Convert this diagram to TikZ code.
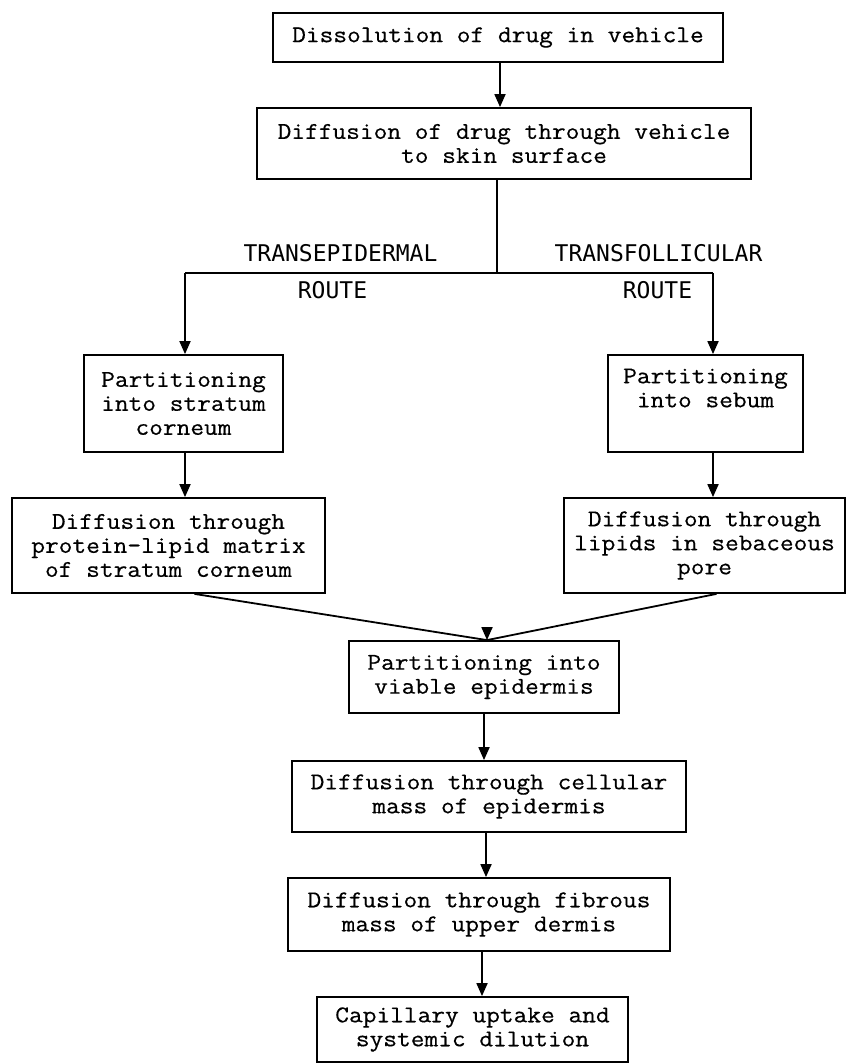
\documentclass[tikz,border=0pt]{standalone}
\usepackage{fontspec}
\newfontfamily\labfont{DejaVu Sans Mono}
\newfontfamily\boxfont[FakeStretch=1.11,FakeBold=0.5]{Latin Modern Mono}
\usetikzlibrary{arrows.meta}
\begin{document}
\begin{tikzpicture}[x=1pt,y=-1pt,
  box/.style={draw,line width=1.8pt,inner sep=0pt,align=center,
    font=\boxfont\fontsize{24}{24}\selectfont},
  lab/.style={font=\labfont\fontsize{23}{24}\selectfont,inner sep=0pt},
  ln/.style={line width=1.8pt,line join=round},
  arr/.style={line width=1.8pt,-{Triangle[length=13pt,width=11pt]}}]
\useasboundingbox (0,0) rectangle (846,1064);
\node[box,minimum width=450pt,minimum height=49pt] (d1) at (498,37.5)
  {Dissolution of drug in vehicle};
\node[box,minimum width=494pt,minimum height=71pt] (d2) at (504,143.5)
  {Diffusion of drug through vehicle\\to skin surface};
\node[box,minimum width=199pt,minimum height=97pt] (pL) at (183.5,403.5)
  {Partitioning\\into stratum\\corneum};
\node[box,minimum width=195pt,minimum height=97pt] (pR) at (705.5,403.5)
  {Partitioning\\into sebum\\\strut};
\node[box,minimum width=313pt,minimum height=95pt] (dL) at (168.5,545.5)
  {Diffusion through\\protein-lipid matrix\\of stratum corneum};
\node[box,minimum width=281pt,minimum height=95pt] (dR) at (704.5,545.5)
  {Diffusion through\\lipids in sebaceous\\pore};
\node[box,minimum width=270pt,minimum height=72pt] (v) at (484,677)
  {Partitioning into\\viable epidermis};
\node[box,minimum width=394pt,minimum height=71pt] (c) at (489,796.5)
  {Diffusion through cellular\\mass of epidermis};
\node[box,minimum width=382pt,minimum height=73pt] (f) at (479,914.5)
  {Diffusion through fibrous\\mass of upper dermis};
\node[box,minimum width=311pt,minimum height=65pt] (cap) at (472.5,1029.5)
  {Capillary uptake and\\systemic dilution};
\node[lab] (t1) at (340.5,253) {TRANSEPIDERMAL};
\node[lab] (r1) at (332.5,290) {ROUTE};
\node[lab] (t2) at (658.5,253) {TRANSFOLLICULAR};
\node[lab] (r2) at (657.5,290) {ROUTE};
\coordinate (j) at (497,273);
\coordinate (jl) at (185,273);
\coordinate (jr) at (713,273);
\coordinate (m) at (487,627);
\draw[arr] (d1.south -| 500,0) -- (d2.north -| 500,0);
\draw[ln] (d2.south -| j) -- (j);
\draw[ln] (jl) -- (jr);
\draw[arr] (jl) -- (jl |- pL.north);
\draw[arr] (jr) -- (jr |- pR.north);
\draw[arr] (pL.south -| jl) -- (dL.north -| jl);
\draw[arr] (pR.south -| jr) -- (dR.north -| jr);
\draw[ln] ([xshift=26pt]dL.south) -- (v.north -| m) -- ([xshift=12pt]dR.south);
\draw[arr] (m) -- (v.north -| m);
\draw[arr] (v.south) -- (v.south |- c.north);
\draw[arr] (c.south -| 486,0) -- (f.north -| 486,0);
\draw[arr] (f.south -| 482,0) -- (cap.north -| 482,0);
\end{tikzpicture}
\end{document}
